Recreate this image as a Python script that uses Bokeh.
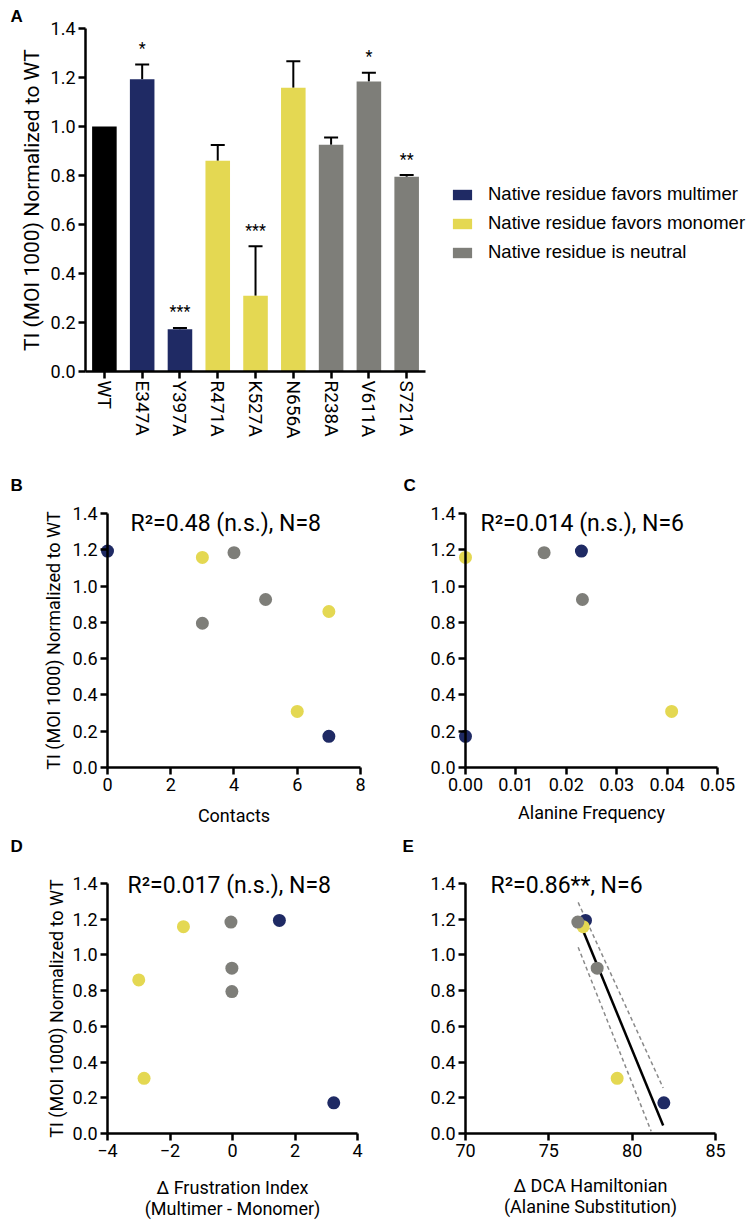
from bokeh.plotting import figure
from bokeh.layouts import column, row
from bokeh.models import (ColumnDataSource, Legend, LegendItem, Label, FixedTicker,
                          NumeralTickFormatter, Range1d, Whisker, TeeHead)
from bokeh.embed import file_html
from bokeh.resources import INLINE
from bokeh.core.properties import value

# ---------------- data ----------------
mutants = ["WT", "E347A", "Y397A", "R471A", "K527A", "N656A", "R238A", "V611A", "S721A"]
ti_mean = [1.000, 1.193, 0.172, 0.860, 0.309, 1.158, 0.926, 1.184, 0.795]
ti_err = [0.000, 0.060, 0.006, 0.064, 0.202, 0.108, 0.029, 0.035, 0.007]
group = ["wt", "multimer", "multimer", "monomer", "monomer", "monomer", "neutral", "neutral", "neutral"]
sig = ["", "*", "***", "", "***", "", "", "*", "**"]

group_names = ["multimer", "monomer", "neutral"]
group_labels = ["Native residue favors multimer", "Native residue favors monomer",
                "Native residue is neutral"]

# per-mutant descriptors (None = not available)
contacts = [None, 0, 7, 7, 6, 3, 5, 4, 3]
alanine_freq = [None, 0.0230, 0.0, None, 0.0409, 0.0, 0.0232, 0.0156, None]
frustration = [None, 1.50, 3.24, -3.00, -2.83, -1.57, -0.02, -0.05, -0.02]
dca = [None, 77.20, 81.90, None, 79.10, 77.06, 77.90, 76.74, None]

# regression fit and confidence band for panel E
fit_x = [76.96, 81.86]
fit_y = [1.158, 0.045]
band_hi_x = [76.76, 81.86]
band_hi_y = [1.294, 0.255]
band_lo_x = [76.76, 81.14]
band_lo_y = [1.043, 0.013]

r2_texts = ["R\u00b2=0.48 (n.s.), N=8", "R\u00b2=0.014 (n.s.), N=6",
            "R\u00b2=0.017 (n.s.), N=8", "R\u00b2=0.86**, N=6"]

ti_ticks = [0.0, 0.2, 0.4, 0.6, 0.8, 1.0, 1.2, 1.4]
contacts_ticks = [0, 2, 4, 6, 8]
freq_ticks = [0.0, 0.01, 0.02, 0.03, 0.04, 0.05]
frust_ticks = [-4, -2, 0, 2, 4]
dca_ticks = [70, 75, 80, 85]

# ---------------- style ----------------
FONT = "Roboto"
COLORS = {"wt": "#000000", "multimer": "#1f2a64", "monomer": "#e4d852", "neutral": "#7e7e79"}
YLABEL = "TI (MOI 1000) Normalized to WT"


def style_axis(ax):
    ax.axis_line_width = 2.5
    ax.major_tick_line_width = 2.5
    ax.major_tick_out = 7
    ax.major_tick_in = 0
    ax.minor_tick_line_color = None
    ax.major_label_text_font = FONT
    ax.major_label_text_font_size = "18px"
    ax.major_label_text_color = "black"
    ax.major_label_standoff = 3
    ax.axis_label_text_font = FONT
    ax.axis_label_text_font_style = "normal"
    ax.axis_label_text_font_size = "18px"
    ax.axis_label_text_color = "black"


def style(p):
    style_axis(p.xaxis[0])
    style_axis(p.yaxis[0])
    p.xgrid.visible = False
    p.ygrid.visible = False
    p.outline_line_color = None
    p.yaxis.ticker = FixedTicker(ticks=ti_ticks)
    p.yaxis.formatter = NumeralTickFormatter(format="0.0")
    p.yaxis.bounds = (0, 1.4)


def letter_title(p, letter, offset, standoff):
    p.title.text = letter
    p.title.align = "left"
    p.title.offset = offset
    p.title.standoff = standoff
    p.title.text_font = "Liberation Sans"
    p.title.text_font_style = "bold"
    p.title.text_font_size = "17px"
    p.title.text_color = "black"


def r2_label(p, text, x, y):
    p.add_layout(Label(x=x, y=y, x_units="screen", y_units="screen", text=text,
                       text_font=FONT, text_font_size="23px", text_baseline="middle",
                       text_align="left", text_color="black"))


# ---------------- panel A ----------------
xpos = list(range(len(mutants)))
pa = figure(width=750, height=463, x_range=Range1d(-0.5, 17.10), y_range=Range1d(0, 1.4),
            output_backend="svg", toolbar_location=None, title="A",
            min_border_left=85, min_border_right=0, min_border_top=28, min_border_bottom=92)
style(pa)
letter_title(pa, "A", -75, 6)
pa.xaxis.ticker = FixedTicker(ticks=xpos)
pa.xaxis.major_label_overrides = {i: m for i, m in zip(xpos, mutants)}
pa.xaxis.bounds = (-0.5, len(mutants) - 0.5)
pa.xaxis.major_label_orientation = "vertical"
pa.xaxis.major_label_text_font_size = "19px"
pa.xaxis.major_label_standoff = 2
pa.yaxis.axis_label = YLABEL
pa.yaxis.axis_label_text_font_size = "21px"
pa.yaxis.axis_label_standoff = 4

renderers = {}
for g in ["wt"] + group_names:
    idx = [i for i, gg in enumerate(group) if gg == g]
    src = ColumnDataSource(dict(x=[xpos[i] for i in idx], top=[ti_mean[i] for i in idx]))
    renderers[g] = pa.vbar(x="x", top="top", width=0.65, source=src,
                           fill_color=COLORS[g], line_color=None)

eidx = [i for i in xpos if ti_err[i] > 0]
esrc = ColumnDataSource(dict(x=[xpos[i] for i in eidx],
                             lower=[ti_mean[i] for i in eidx],
                             upper=[ti_mean[i] + ti_err[i] for i in eidx]))
pa.add_layout(Whisker(source=esrc, base="x", lower="lower", upper="upper",
                      line_width=2, line_color="black", lower_head=None,
                      upper_head=TeeHead(size=14, line_width=2, line_color="black")))

sidx = [i for i in xpos if sig[i]]
ssrc = ColumnDataSource(dict(x=[xpos[i] for i in sidx],
                             y=[ti_mean[i] + ti_err[i] + 0.065 for i in sidx],
                             t=[sig[i] for i in sidx]))
pa.text(x="x", y="y", text="t", source=ssrc, text_font=value(FONT), text_font_size="16px",
        text_align="center", text_baseline="alphabetic", text_color="black")

legend = Legend(items=[LegendItem(label=lab, renderers=[renderers[g]])
                       for g, lab in zip(group_names, group_labels)],
                location=(365, 106), orientation="vertical")
legend.glyph_width = 24
legend.glyph_height = 13
legend.label_standoff = 14
legend.label_height = 26
legend.spacing = 3
legend.padding = 0
legend.margin = 0
legend.border_line_alpha = 0
legend.background_fill_alpha = 0
legend.label_text_font = "Liberation Sans"
legend.label_text_font_size = "18.5px"
legend.label_text_color = "black"
pa.add_layout(legend, "center")


# ---------------- scatter helper ----------------
# axes are pinned at the data origin of each panel; the frame covers the whole panel
def scatter_panel(x_rng, y_rng, bounds, ticks, fmt, width, height, top, ylabel, ylabel_standoff,
                  xlabel, xlabel_standoff):
    p = figure(width=width, height=height, x_range=Range1d(*x_rng), y_range=Range1d(*y_rng),
               output_backend="svg", toolbar_location=None, title=" ",
               min_border_left=2, min_border_right=2, min_border_top=top, min_border_bottom=0)
    style(p)
    p.xaxis.ticker = FixedTicker(ticks=ticks)
    if fmt:
        p.xaxis.formatter = NumeralTickFormatter(format=fmt)
    p.xaxis.bounds = bounds
    p.xaxis.fixed_location = 0
    p.yaxis.fixed_location = bounds[0]
    if ylabel:
        p.yaxis.axis_label = ylabel
        p.yaxis.axis_label_standoff = ylabel_standoff
    p.xaxis.axis_label = xlabel
    p.xaxis.axis_label_standoff = xlabel_standoff
    p.xaxis.axis_label_text_line_height = 1.0
    return p


def add_points(p, xvals):
    for g in group_names:
        idx = [i for i in range(len(mutants)) if group[i] == g and xvals[i] is not None]
        src = ColumnDataSource(dict(x=[xvals[i] for i in idx], y=[ti_mean[i] for i in idx]))
        p.scatter(x="x", y="y", source=src, size=13, fill_color=COLORS[g], line_color=None)


pb = scatter_panel((-3.3202, 8.4111), (-0.3472, 1.4992), (0, 8), contacts_ticks, None,
                   375, 367, 32, YLABEL, 6, "Contacts", 11)
add_points(pb, contacts)
letter_title(pb, "B", 8, 1)
r2_label(pb, r2_texts[0], 128, 307)

pc = scatter_panel((-0.017460, 0.056151), (-0.3472, 1.4992), (0, 0.05), freq_ticks, "0.00",
                   375, 367, 32, None, 0, "Alanine Frequency", 8)
add_points(pc, alanine_freq)
letter_title(pc, "C", 26, 1)
r2_label(pc, r2_texts[1], 103, 307)

pd_ = scatter_panel((-7.36, 4.512), (-0.4872, 1.5512), (-4, 4), frust_ticks, None,
                    375, 390, 26, YLABEL, 3,
                    "\u0394 Frustration Index\n(Multimer - Monomer)", 17)
add_points(pd_, frustration)
letter_title(pd_, "D", 8, 2)
r2_label(pd_, r2_texts[2], 125, 335)

pe = scatter_panel((64.72, 86.98), (-0.4872, 1.5512), (70, 85), dca_ticks, None,
                   375, 390, 26, None, 0,
                   "\u0394 DCA Hamiltonian\n(Alanine Substitution)", 15)
pe.line(band_hi_x, band_hi_y, line_color="#8a8a8a", line_width=1.5, line_dash="4 3")
pe.line(band_lo_x, band_lo_y, line_color="#8a8a8a", line_width=1.5, line_dash="4 3")
pe.line(fit_x, fit_y, line_color="black", line_width=2.5)
add_points(pe, dca)
letter_title(pe, "E", 25, 2)
r2_label(pe, r2_texts[3], 113, 335)

layout = column(pa, row(pb, pc), row(pd_, pe))
open("out.html", "w").write(file_html(layout, INLINE))
